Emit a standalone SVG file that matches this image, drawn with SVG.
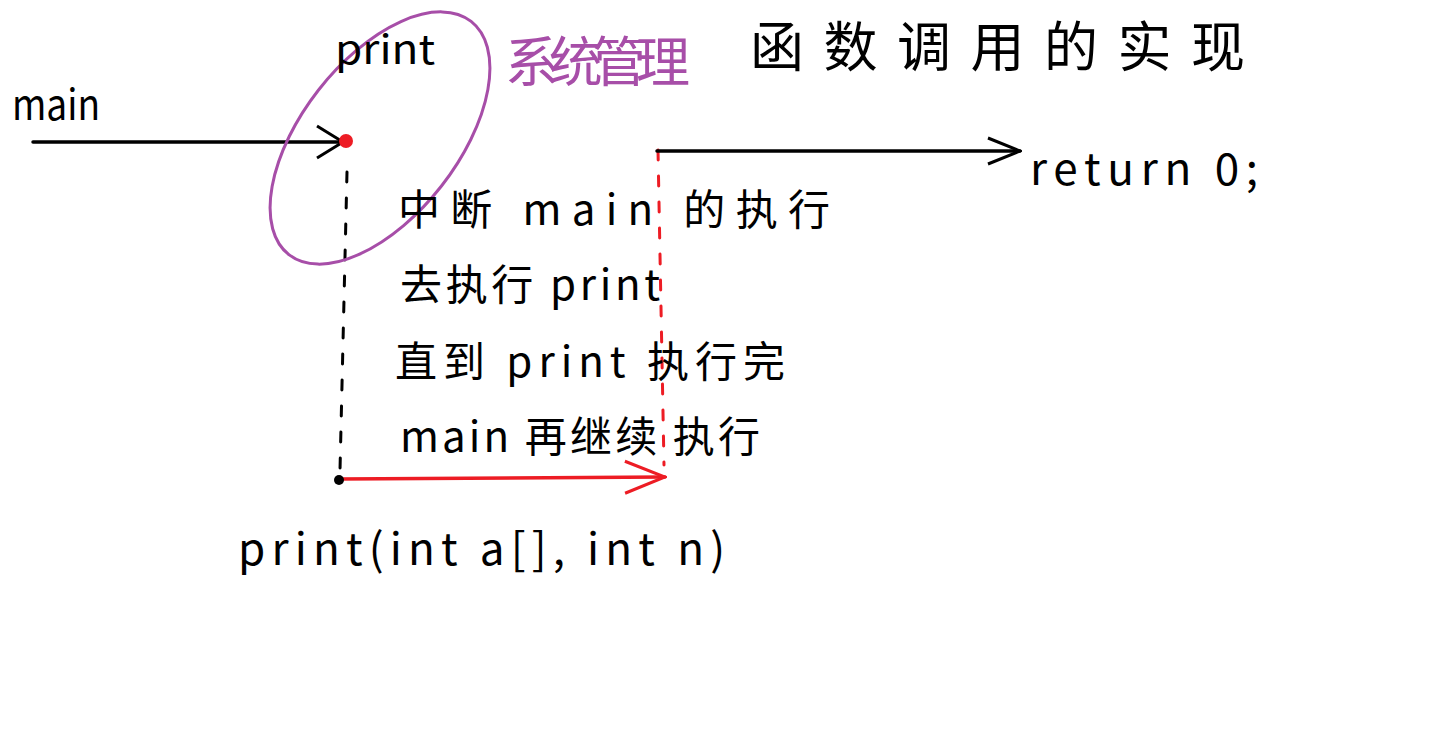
<svg xmlns="http://www.w3.org/2000/svg" width="1434" height="737" viewBox="0 0 1434 737">
<style>
.t{font-family:"Noto Sans CJK SC","Noto Sans",sans-serif;fill:#000}
.p{fill:#a74ea8}
.ln{fill:none;stroke-linecap:round;stroke-linejoin:round}
</style>
<defs>
<marker id="ab" viewBox="0 0 30 36" refX="28" refY="18" markerWidth="30" markerHeight="36" markerUnits="userSpaceOnUse" orient="auto"><path d="M2,2 L28,18 L2,34" fill="none" stroke="#000" stroke-width="3"/></marker>
<marker id="ar" viewBox="0 0 44 36" refX="42" refY="18" markerWidth="44" markerHeight="36" markerUnits="userSpaceOnUse" orient="auto"><path d="M2,2 L42,18 L2,34" fill="none" stroke="#ed1c24" stroke-width="3"/></marker>
<marker id="ab2" viewBox="0 0 36 30" refX="34" refY="15" markerWidth="36" markerHeight="30" markerUnits="userSpaceOnUse" orient="auto"><path d="M2,2 L34,15 L2,28" fill="none" stroke="#000" stroke-width="3"/></marker>
</defs>
<rect width="1434" height="737" fill="#fff"/>
<g id="connectors">
<line class="ln" x1="33" y1="142" x2="343" y2="142" stroke="#000" stroke-width="3.5" marker-end="url(#ab)"/>
<line class="ln" x1="347" y1="172" x2="340" y2="470" stroke="#000" stroke-width="3" stroke-dasharray="10,16"/>
<line class="ln" x1="339" y1="479" x2="665" y2="477" stroke="#ed1c24" stroke-width="3.5" marker-end="url(#ar)"/>
<line class="ln" x1="658" y1="150" x2="664" y2="465" stroke="#ed1c24" stroke-width="3" stroke-dasharray="10,16"/>
<line class="ln" x1="657" y1="151" x2="1020" y2="151" stroke="#000" stroke-width="3.5" marker-end="url(#ab2)"/>
</g>
<g id="print-node">
<ellipse cx="380" cy="138" rx="78" ry="148" transform="rotate(38 380 138)" fill="none" stroke="#a74ea8" stroke-width="3"/>
<text class="t" x="335" y="64" font-size="40" textLength="100" lengthAdjust="spacingAndGlyphs">print</text>
<circle cx="346" cy="141" r="7" fill="#ed1c24"/>
</g>
<g id="main-label"><text class="t" x="12" y="120" font-size="42" textLength="88" lengthAdjust="spacingAndGlyphs">main</text></g>
<g id="title-purple"><text class="t p" x="505" y="82" font-size="54" textLength="185" lengthAdjust="spacing">系统管理</text></g>
<g id="title"><text class="t" x="750" y="67" font-size="54" textLength="495" lengthAdjust="spacing">函数调用的实现</text></g>
<g id="return-label"><text class="t" x="1030" y="185" font-size="44" textLength="228" lengthAdjust="spacing">return 0;</text></g>
<g id="explanation">
<text class="t" x="398" y="225" font-size="42" textLength="432" lengthAdjust="spacing">中断 main 的执行</text>
<text class="t" x="400" y="300" font-size="42" textLength="260" lengthAdjust="spacing">去执行 print</text>
<text class="t" x="395" y="377" font-size="42" textLength="390" lengthAdjust="spacing">直到 print 执行完</text>
<text class="t" x="400" y="452" font-size="42" textLength="360" lengthAdjust="spacing">main 再继续 执行</text>
</g>
<g id="start-dot"><circle cx="339" cy="480" r="5" fill="#000"/></g>
<g id="signature"><text class="t" x="238" y="565" font-size="44" textLength="487" lengthAdjust="spacing">print(int a[], int n)</text></g>
</svg>
